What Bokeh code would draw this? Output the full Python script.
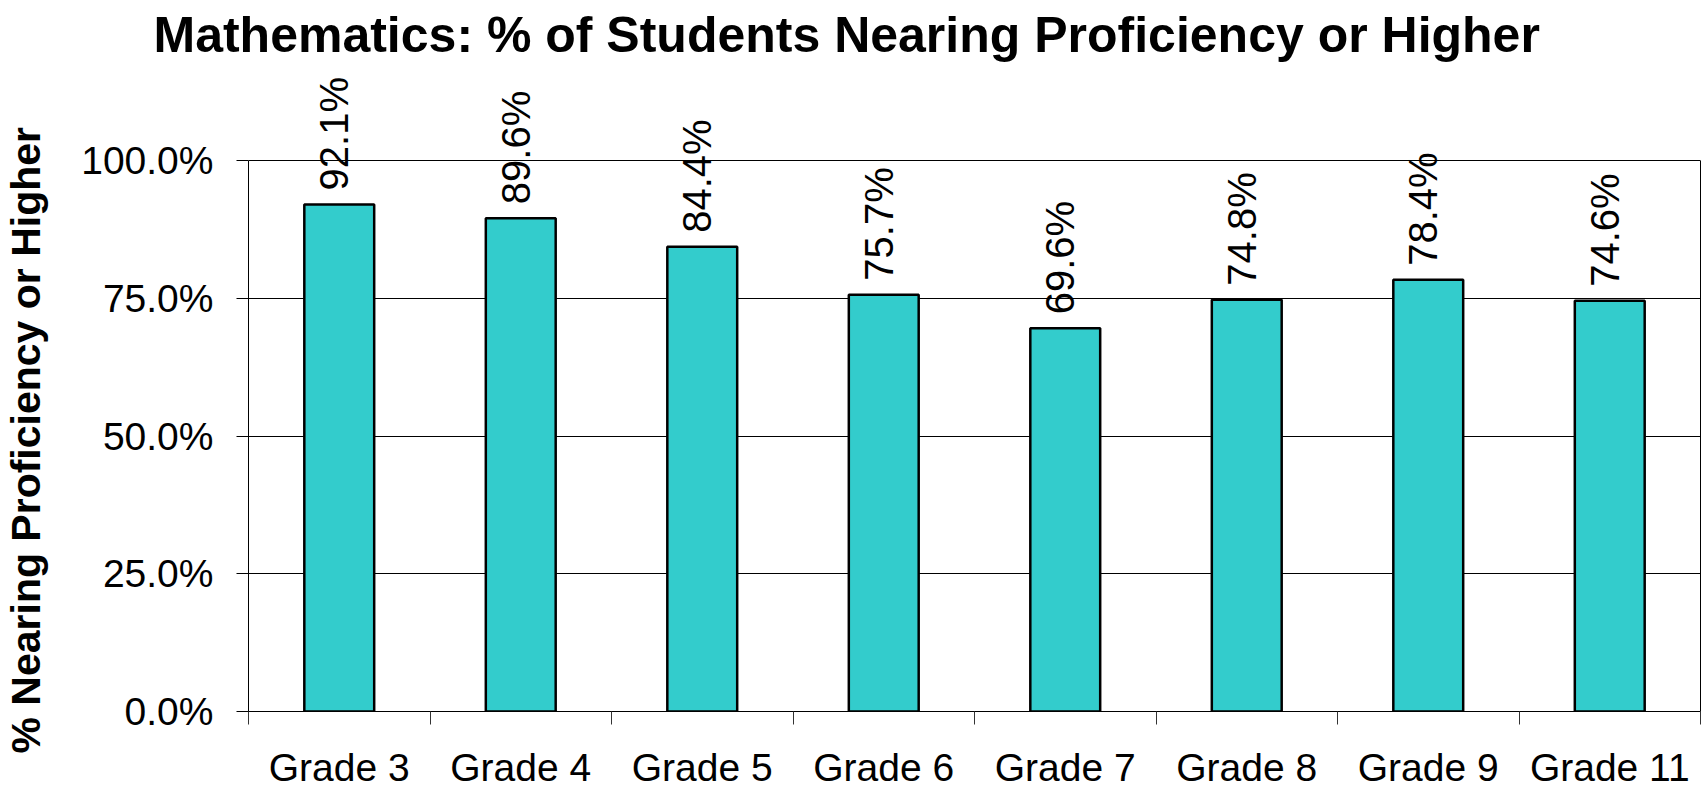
import math
from bokeh.plotting import figure
from bokeh.models import (FactorRange, Range1d, LinearAxis, CategoricalAxis, FixedTicker,
                          PrintfTickFormatter, ColumnDataSource, LabelSet, Title)
from bokeh.core.properties import value
from bokeh.embed import file_html
from bokeh.resources import INLINE

grades = ["Grade 3", "Grade 4", "Grade 5", "Grade 6", "Grade 7", "Grade 8", "Grade 9", "Grade 11"]
pct = [92.1, 89.6, 84.4, 75.7, 69.6, 74.8, 78.4, 74.6]
pct_labels = ["92.1%", "89.6%", "84.4%", "75.7%", "69.6%", "74.8%", "78.4%", "74.6%"]
y_ticks = [0, 25, 50, 75, 100]
title_text = "Mathematics: % of Students Nearing Proficiency or Higher"
y_title = "% Nearing Proficiency or Higher"

FONT = "Liberation Sans"

# layout: the frame extends above 100% so the value labels are not clipped
FRAME_TOP, FRAME_BOTTOM, PX_PER_100 = 65, 714, 554
y_end = 100 * (FRAME_BOTTOM - FRAME_TOP) / PX_PER_100

src = ColumnDataSource(dict(grade=grades, pct=pct, label=pct_labels))

p = figure(width=1704, height=791, x_range=FactorRange(*grades, range_padding=0),
           y_range=Range1d(0, y_end), output_backend="svg", toolbar_location=None,
           x_axis_location=None, min_border_left=248, min_border_right=4,
           min_border_top=FRAME_TOP, min_border_bottom=791 - FRAME_BOTTOM,
           background_fill_color="white", border_fill_color="white",
           outline_line_color=None)
p.title = Title(text=title_text, text_font=FONT, text_font_size="50px",
                text_font_style="bold", text_color="black", align="left",
                offset=-95, standoff=8)

p.vbar(x="grade", top="pct", width=0.385, source=src, fill_color="#33CCCC",
       line_color="black", line_width=2.5)

p.add_layout(LabelSet(x="grade", y="pct", text="label", source=src, angle=math.pi / 2,
                      text_align="left", text_baseline="middle", y_offset=14, x_offset=-5,
                      text_font=value(FONT), text_font_size=value("40px"),
                      text_color=value("black")))

# y axis
yax = p.yaxis[0]
yax.bounds = (0, 100)
yax.ticker = FixedTicker(ticks=y_ticks)
yax.formatter = PrintfTickFormatter(format="%.1f%%")
yax.major_label_text_font = FONT
yax.major_label_text_font_size = "39px"
yax.major_label_text_color = "black"
yax.major_label_standoff = 23
yax.major_tick_out = 12
yax.major_tick_in = 0
yax.minor_tick_line_color = None
yax.axis_line_color = "black"
yax.major_tick_line_color = "black"
# trailing no-break spaces centre the visible title on the 0-100% span instead of the taller frame
yax.axis_label = y_title + "\u00a0" * 9
yax.axis_label_text_font = FONT
yax.axis_label_text_font_size = "41px"
yax.axis_label_text_font_style = "bold"
yax.axis_label_text_color = "black"
yax.axis_label_standoff = 29

# right border of the plot area
right_axis = LinearAxis(bounds=(0, 100), ticker=FixedTicker(ticks=[]),
                        major_tick_out=0, major_tick_in=0, minor_tick_line_color=None,
                        major_label_standoff=0, major_label_text_font_size="1px",
                        axis_line_color="black")
p.add_layout(right_axis, "right")

p.ygrid.ticker = FixedTicker(ticks=y_ticks)
p.ygrid.grid_line_color = "black"
p.ygrid.grid_line_width = 1

# boundary ticks on the x axis (synthetic coordinates of the factor range)
edge_axis = LinearAxis(ticker=FixedTicker(ticks=list(range(len(grades) + 1))),
                       major_tick_out=13, major_tick_in=0, minor_tick_line_color=None,
                       axis_line_color="black", major_tick_line_color="#333333",
                       major_label_text_font_size="1px", major_label_text_alpha=0,
                       major_label_standoff=0)
p.add_layout(edge_axis, "below")

cat_axis = CategoricalAxis(axis_line_color=None, major_tick_line_color=None,
                           minor_tick_line_color=None, major_tick_out=0, major_tick_in=0,
                           major_label_text_font=FONT, major_label_text_font_size="39px",
                           major_label_text_color="black", major_label_standoff=21)
p.add_layout(cat_axis, "below")

p.xgrid.visible = False

open("out.html", "w").write(file_html(p, INLINE))
